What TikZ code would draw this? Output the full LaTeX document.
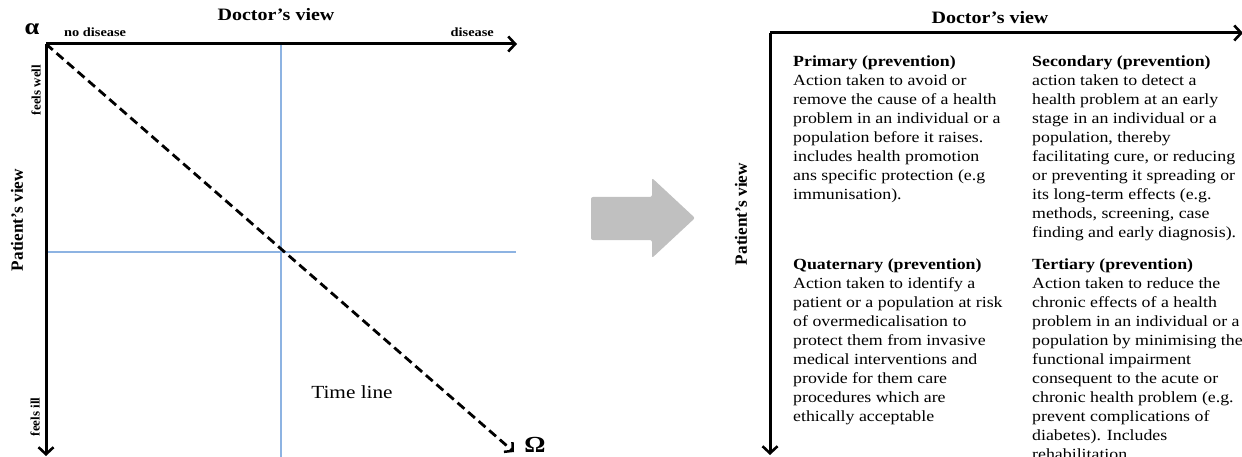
\documentclass[tikz,border=0pt]{standalone}
\usepackage{fontspec}
\setmainfont[FakeStretch=1.15]{Liberation Serif}
\newfontfamily\plainserif{Liberation Serif}
\usetikzlibrary{arrows.meta}
\begin{document}
\begin{tikzpicture}[x=1pt,y=-1pt,
  axis/.style={line width=3pt,-{Straight Barb[length=7pt,width=15pt,line width=2.6pt]}},
  blueline/.style={draw=blueln,line width=1.4pt},
  timearrow/.style={line width=2.8pt,dash pattern=on 9pt off 5pt,-{Straight Barb[length=6pt,width=13pt,line width=2.5pt]}},
  smalllbl/.style={inner sep=0pt,font=\bfseries\fontsize{12.5}{12.5}\selectfont},
  rotlbl/.style={inner sep=0pt,rotate=90,font=\plainserif\bfseries\fontsize{13}{13}\selectfont},
  ttl/.style={inner sep=0pt,font=\bfseries\fontsize{17.4}{17.4}\selectfont},
  rotttl/.style={inner sep=0pt,rotate=90,font=\plainserif\bfseries\fontsize{17.2}{17.2}\selectfont},
  greek/.style={inner sep=0pt,font=\bfseries\fontsize{23}{23}\selectfont},
  bodytxt/.style={inner sep=0pt,anchor=north west,align=left,font=\fontsize{15.5}{19}\selectfont}
]
\definecolor{blueln}{HTML}{8DB3E2}
\definecolor{grayarr}{HTML}{C0C0C0}
\clip (0,0) rectangle (1242,457);
\fill[white] (0,0) rectangle (1242,457);

% ---------- left diagram ----------
\coordinate (O) at (46,44);
\coordinate (XE) at (517,44);
\coordinate (YE) at (46,456);
\coordinate (VT) at (281,44);
\coordinate (VB) at (281,457);
\coordinate (HL) at (46,252);
\coordinate (HR) at (516,252);
\coordinate (TE) at (514,452);
\draw[blueline] (VT) -- (VB);
\draw[blueline] (HL) -- (HR);
\draw[axis] (O) -- (XE);
\draw[axis] (O) -- (YE);
\draw[timearrow] (O) -- (TE);

\node[greek] (alpha) at (32,29) {α};
\node[smalllbl,anchor=base west] (nodis) at (64,37) {no disease};
\node[smalllbl,anchor=base east] (dis) at (494,37) {disease};
\node[ttl] (dv1) at (276,15) {Doctor’s view};
\node[rotlbl] (fw) at (36,90) {feels well};
\node[rotlbl] (fi) at (35,417) {feels ill};
\node[rotttl] (pv1) at (17,220) {Patient’s view};
\node[inner sep=0pt,font=\fontsize{18.5}{18.5}\selectfont] (tl) at (352,392) {Time line};
\node[greek] (omega) at (535,445) {Ω};

% ---------- gray arrow ----------
\fill[grayarr,rounded corners=2pt] (591,197) -- (652,197) -- (652,178) -- (695,218) -- (652,258) -- (652,240) -- (591,240) -- cycle;

% ---------- right diagram ----------
\coordinate (O2) at (770,33);
\coordinate (XE2) at (1243,33);
\coordinate (YE2) at (770,455);
\draw[axis] (O2) -- (XE2);
\draw[axis] (O2) -- (YE2);
\node[ttl] (dv2) at (990,18) {Doctor’s view};
\node[rotttl] (pv2) at (741,214) {Patient’s view};

\node[bodytxt] (prim) at (793,56) {\textbf{Primary (prevention)}\\
Action taken to avoid or\\
remove the cause of a health\\
problem in an individual or a\\
population before it raises.\\
includes health promotion\\
ans specific protection (e.g\\
immunisation).};

\node[bodytxt] (sec) at (1032,56) {\textbf{Secondary (prevention)}\\
action taken to detect a\\
health problem at an early\\
stage in an individual or a\\
population, thereby\\
facilitating cure, or reducing\\
or preventing it spreading or\\
its long-term effects (e.g.\\
methods, screening, case\\
finding and early diagnosis).};

\node[bodytxt] (quat) at (793,259) {\textbf{Quaternary (prevention)}\\
Action taken to identify a\\
patient or a population at risk\\
of overmedicalisation to\\
protect them from invasive\\
medical interventions and\\
provide for them care\\
procedures which are\\
ethically acceptable};

\node[bodytxt] (tert) at (1032,259) {\textbf{Tertiary (prevention)}\\
Action taken to reduce the\\
chronic effects of a health\\
problem in an individual or a\\
population by minimising the\\
functional impairment\\
consequent to the acute or\\
chronic health problem (e.g.\\
prevent complications of\\
diabetes). Includes\\
rehabilitation};
\end{tikzpicture}
\end{document}
